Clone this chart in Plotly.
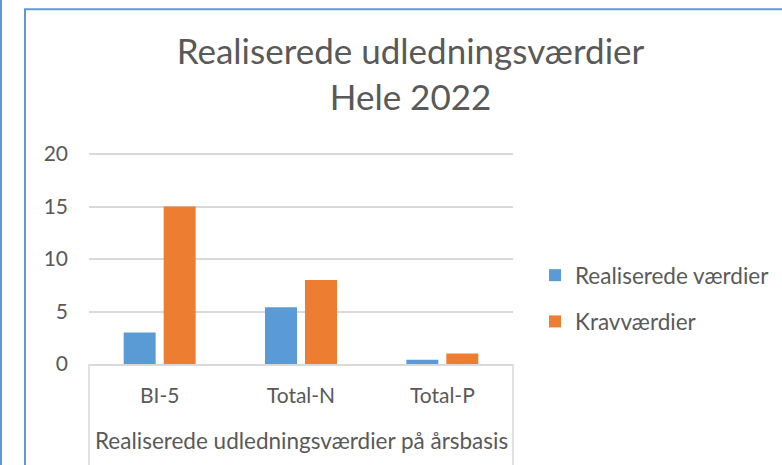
import plotly.graph_objects as go

categories = ["BI-5", "Total-N", "Total-P"]
group_label = "Realiserede udledningsværdier på årsbasis"
series_names = ["Realiserede værdier", "Kravværdier"]
realiserede = [3.0, 5.4, 0.4]
krav = [15, 8, 1]
y_ticks = [0, 5, 10, 15, 20]

W, H = 782, 465
Y_MAX = 20.2
PL, PR, PB = 89, 513, 364  # plot area pixel box
PT = PB - 210 * Y_MAX / 20
pw, ph = PR - PL, PB - PT

def px(x):
    return (x - PL) / pw

def py(y):
    return (PB - y) / ph

FONT = "Lato"
TXT = "#595959"
GRID = "#D9D9D9"
FRAME = "#5B9BD5"

fig = go.Figure()
fig.add_trace(go.Bar(x=categories, y=realiserede, name=series_names[0],
                     marker=dict(color="#5B9BD5", line=dict(width=0)),
                     legendgroup="a"))
fig.add_trace(go.Bar(x=categories, y=krav, name=series_names[1],
                     marker=dict(color="#ED7D31", line=dict(width=0)),
                     legendgroup="b"))

shapes = [
    dict(type="line", xref="paper", yref="paper", x0=px(1), x1=px(1), y0=py(-5), y1=py(470),
         line=dict(color=FRAME, width=2)),
    dict(type="line", xref="paper", yref="paper", x0=px(25), x1=px(25), y0=py(9), y1=py(470),
         line=dict(color=FRAME, width=2)),
    dict(type="line", xref="paper", yref="paper", x0=px(24), x1=px(790), y0=py(9), y1=py(9),
         line=dict(color=FRAME, width=2)),
    dict(type="line", xref="paper", yref="paper", x0=0, x1=0, y0=0, y1=py(470),
         line=dict(color=GRID, width=1.5)),
    dict(type="line", xref="paper", yref="paper", x0=1, x1=1, y0=0, y1=py(470),
         line=dict(color=GRID, width=1.5)),
]

fig.update_layout(
    width=W, height=H,
    margin=dict(l=PL, r=W - PR, t=PT, b=H - PB, pad=0, autoexpand=False),
    paper_bgcolor="white", plot_bgcolor="white",
    font=dict(family=FONT, color=TXT, size=21),
    title=dict(text="Realiserede udledningsværdier<br>Hele 2022",
               x=410.5 / W, xanchor="center", xref="container",
               y=1 - 64 / H, yanchor="top", yref="container",
               font=dict(family=FONT, size=35, color=TXT)),
    barmode="group", bargap=0.434, bargroupgap=0.2,
    xaxis=dict(type="category", showgrid=False, showline=True, linecolor=GRID, linewidth=1.5,
               ticks="", ticklabelstandoff=12, tickfont=dict(size=21, color=TXT),
               range=[-0.5, 2.5], fixedrange=True),
    yaxis=dict(range=[0, Y_MAX], tickvals=y_ticks, showgrid=True, gridcolor=GRID, gridwidth=1.5,
               zeroline=False, showline=False, ticks="", ticklabelstandoff=20,
               tickfont=dict(size=21, color=TXT), fixedrange=True),
    legend=dict(x=px(535), y=py(254), xanchor="left", yanchor="top",
                traceorder="grouped", tracegroupgap=14, itemwidth=30,
                font=dict(size=22.5, color=TXT), bgcolor="rgba(0,0,0,0)"),
    shapes=shapes,
    annotations=[dict(text=group_label, xref="paper", yref="paper",
                      x=px(301), y=py(441), xanchor="center", yanchor="middle",
                      showarrow=False, font=dict(size=22.5, color=TXT))],
)

fig.write_html("out.html", config={"displayModeBar": False},
               post_script="document.body.style.margin='0';")
